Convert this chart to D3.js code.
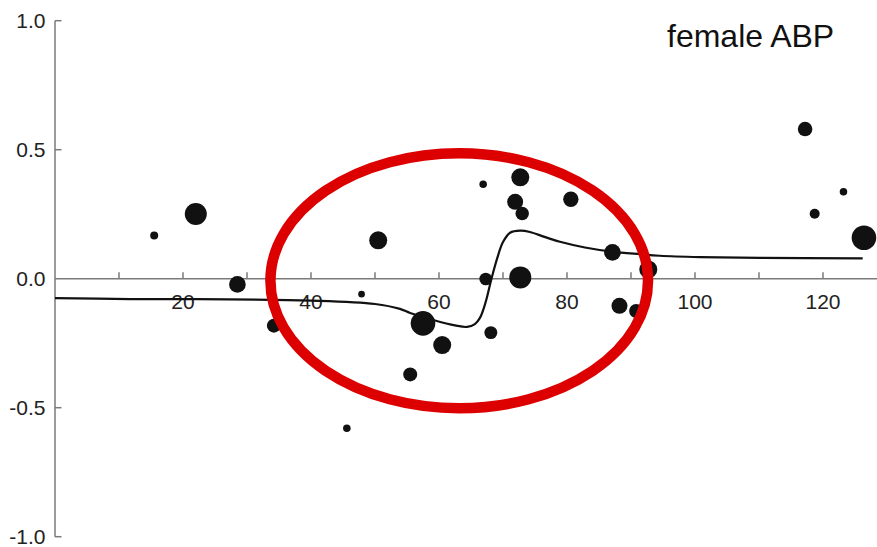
<!DOCTYPE html>
<html>
<head>
<meta charset="utf-8">
<script src="https://cdn.jsdelivr.net/npm/d3@7"></script>
<style>
  body { margin: 0; background: #fff; }
  svg { display: block; font-family: "Liberation Sans", Arial, sans-serif; }
</style>
</head>
<body>
<script>
// study points: x position, effect, weight (marker area)
var studyX = [15.5, 22.0, 28.5, 34.2, 47.9, 45.6, 50.5, 57.5, 60.5, 55.5, 66.9, 67.3, 68.1,
              71.9, 72.7, 73.0, 72.7, 80.6, 87.1, 88.2, 90.8, 92.7, 117.2, 118.7, 123.2, 126.4];
var studyY = [0.167, 0.251, -0.022, -0.182, -0.060, -0.580, 0.149, -0.173, -0.257, -0.371, 0.366, -0.001, -0.209,
              0.298, 0.393, 0.253, 0.005, 0.308, 0.102, -0.105, -0.125, 0.036, 0.580, 0.252, 0.337, 0.159];
var studyW = [16, 121, 69, 49, 11, 14, 81, 151, 81, 49, 14, 40, 42,
              64, 81, 45, 121, 59, 69, 64, 49, 81, 53, 25, 14, 151];

// fitted curve
var fitX = [0, 11.7, 20, 40, 50, 53.9, 55.5, 59.1, 62.5, 64.4, 65.6, 66.4, 67.3, 68.2, 69.1, 70.0,
            71.1, 72.7, 74.2, 76.6, 78.9, 82.8, 87.0, 91.4, 94.5, 100.8, 110.2, 126.2];
var fitY = [-0.075, -0.079, -0.079, -0.085, -0.098, -0.117, -0.133, -0.160, -0.181, -0.187, -0.176, -0.152, -0.09, 0, 0.08, 0.142,
            0.178, 0.186, 0.181, 0.161, 0.143, 0.121, 0.105, 0.095, 0.089, 0.084, 0.081, 0.079];

var xTicks = [10, 20, 30, 40, 50, 60, 70, 80, 90, 100, 110, 120];
var xLabels = [20, 40, 60, 80, 100, 120];
var yTicks = [1.0, 0.5, -0.5, -1.0];
var yLabels = [1.0, 0.5, 0.0, -0.5, -1.0];

// highlight ellipse (data units)
var ring = {cx: 63.16, cy: -0.008, rx: 29.5, ry: 0.494};
var title = 'female ABP';

var width = 877, height = 547;
var x = d3.scaleLinear().domain([0, 128.5]).range([55, 877.4]);
var y = d3.scaleLinear().domain([-1, 1]).range([536.7, 20.7]);
var r = d3.scaleSqrt().domain([0, 151]).range([0, 12.3]);

var svg = d3.select('body').append('svg')
    .attr('width', width)
    .attr('height', height);

var axisCol = '#7a7a7a';

// y axis
svg.append('line')
    .attr('x1', x(0)).attr('x2', x(0))
    .attr('y1', y(1)).attr('y2', y(-1))
    .attr('stroke', axisCol).attr('stroke-width', 1.5);
svg.selectAll('.ytick').data(yTicks).enter().append('line')
    .attr('x1', x(0)).attr('x2', x(0) + 6.5)
    .attr('y1', function(d) { return y(d); })
    .attr('y2', function(d) { return y(d); })
    .attr('stroke', axisCol).attr('stroke-width', 1.5);
svg.selectAll('.ylab').data(yLabels).enter().append('text')
    .attr('x', 45.5)
    .attr('y', function(d) { return y(d); })
    .attr('dy', '0.36em')
    .attr('text-anchor', 'end')
    .attr('font-size', 21)
    .attr('fill', '#222')
    .text(function(d) { return d3.format('.1f')(d).replace('\u2212', '-'); });

// x axis through zero
svg.append('line')
    .attr('x1', x(0)).attr('x2', x.range()[1])
    .attr('y1', y(0)).attr('y2', y(0))
    .attr('stroke', axisCol).attr('stroke-width', 1.5);
svg.selectAll('.xtick').data(xTicks).enter().append('line')
    .attr('x1', function(d) { return x(d); })
    .attr('x2', function(d) { return x(d); })
    .attr('y1', y(0)).attr('y2', y(0) - 6.5)
    .attr('stroke', axisCol).attr('stroke-width', 1.5);
svg.selectAll('.xlab').data(xLabels).enter().append('text')
    .attr('x', function(d) { return x(d); })
    .attr('y', 309)
    .attr('text-anchor', 'middle')
    .attr('font-size', 21)
    .attr('fill', '#222')
    .text(function(d) { return d; });

// fitted line
var fit = fitX.map(function(d, i) { return [d, fitY[i]]; });
svg.append('path')
    .datum(fit)
    .attr('fill', 'none')
    .attr('stroke', '#111')
    .attr('stroke-width', 2.2)
    .attr('d', d3.line()
        .x(function(d) { return x(d[0]); })
        .y(function(d) { return y(d[1]); })
        .curve(d3.curveCatmullRom.alpha(0.5)));

// study dots
var pts = studyX.map(function(d, i) { return {x: d, y: studyY[i], w: studyW[i]}; });
svg.selectAll('.dot').data(pts).enter().append('circle')
    .attr('cx', function(d) { return x(d.x); })
    .attr('cy', function(d) { return y(d.y); })
    .attr('r', function(d) { return r(d.w); })
    .attr('fill', '#111');

// red ring
svg.append('ellipse')
    .attr('cx', x(ring.cx))
    .attr('cy', y(ring.cy))
    .attr('rx', x(ring.cx + ring.rx) - x(ring.cx))
    .attr('ry', y(ring.cy - ring.ry) - y(ring.cy))
    .attr('fill', 'none')
    .attr('stroke', '#dc0000')
    .attr('stroke-width', 10.5);

// title
svg.append('text')
    .attr('x', 667)
    .attr('y', 47)
    .attr('font-size', 32)
    .attr('fill', '#111')
    .text(title);
</script>
</body>
</html>
